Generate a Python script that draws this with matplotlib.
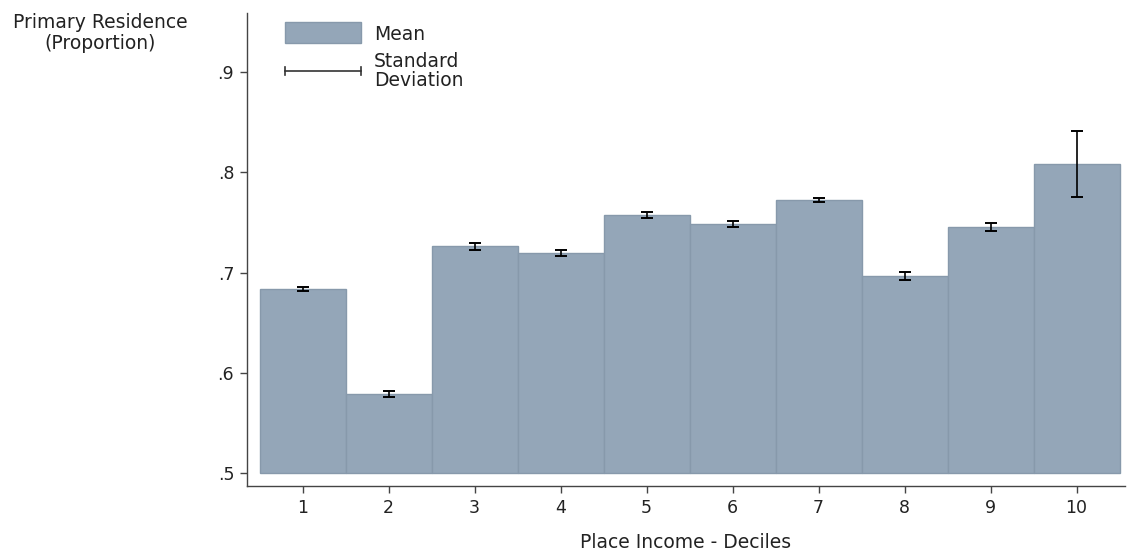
import matplotlib
matplotlib.use("Agg")
import matplotlib.pyplot as plt
from matplotlib.patches import Rectangle
from matplotlib.lines import Line2D

deciles = [1, 2, 3, 4, 5, 6, 7, 8, 9, 10]
means = [0.684, 0.579, 0.726, 0.720, 0.757, 0.748, 0.772, 0.697, 0.745, 0.808]
sds = [0.002, 0.003, 0.003, 0.003, 0.003, 0.003, 0.002, 0.004, 0.004, 0.033]
y_ticks = [0.5, 0.6, 0.7, 0.8, 0.9]
y_ticklabels = [".5", ".6", ".7", ".8", ".9"]

bar_color = "#94a6b8"
edge_color = "#8799ab"
spine_color = "#444444"
text_color = "#222222"
label_size = 13.5
tick_size = 12.5

fig = plt.figure(figsize=(11.27, 5.55), dpi=100)
ax = fig.add_axes([0.2189, 0.1243, 0.7791, 0.8523])

base = 0.5
ax.bar(deciles, [m - base for m in means], bottom=base, width=1.0,
       color=bar_color, edgecolor=edge_color, linewidth=1.0, zorder=2)
ax.errorbar(deciles, means, yerr=sds, fmt="none", ecolor="black",
            elinewidth=1.2, capsize=4, capthick=1.4, zorder=3)

ax.set_xlim(0.35, 10.56)
ax.set_ylim(0.487, 0.959)
ax.set_xticks(deciles)
ax.set_xticklabels([str(d) for d in deciles])
ax.set_yticks(y_ticks)
ax.set_yticklabels(y_ticklabels)

for side in ("top", "right"):
    ax.spines[side].set_visible(False)
for side in ("left", "bottom"):
    ax.spines[side].set_color(spine_color)
    ax.spines[side].set_linewidth(1.0)
ax.tick_params(axis="both", direction="out", length=5, width=1.0,
               color=spine_color, labelsize=tick_size, labelcolor=text_color,
               pad=4)

ax.set_xlabel("Place Income - Deciles", fontsize=label_size, color=text_color,
              labelpad=12)
fig.text(0.089, 0.977, "Primary Residence\n(Proportion)", ha="center",
         va="top", fontsize=label_size, color=text_color, linespacing=1.15)

# legend built by hand: a bar swatch and an error-bar sample
fig.patches.append(Rectangle((285 / 1127, 1 - 43 / 555), 76 / 1127, 21 / 555,
                             transform=fig.transFigure, facecolor=bar_color,
                             edgecolor=edge_color, linewidth=1.0))
fig.text(374 / 1127, 1 - 35 / 555, "Mean", ha="left", va="center",
         fontsize=label_size, color=text_color)
ly = 1 - 71 / 555
fig.lines.append(Line2D([285 / 1127, 361 / 1127], [ly, ly],
                        transform=fig.transFigure, color="#333333", lw=1.2))
for xx in (285 / 1127, 361 / 1127):
    fig.lines.append(Line2D([xx, xx], [ly - 4 / 555, ly + 4 / 555],
                            transform=fig.transFigure, color="#333333", lw=1.2))
fig.text(374 / 1127, ly, "Standard\nDeviation", ha="left", va="center",
         fontsize=label_size, color=text_color, linespacing=1.05)

fig.savefig("out.png", dpi=100)
